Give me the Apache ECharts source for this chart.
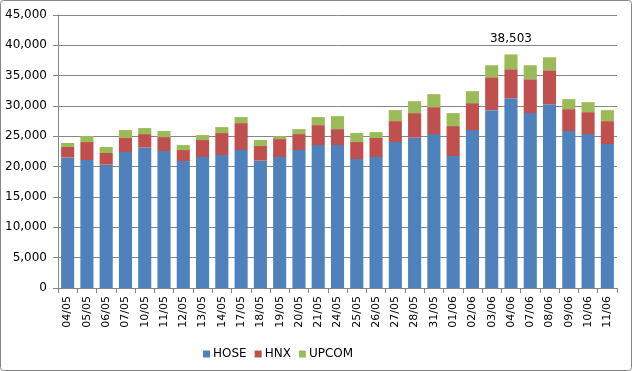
<!DOCTYPE html>
<html><head><meta charset="utf-8">
<script src="https://cdn.jsdelivr.net/npm/echarts@6/dist/echarts.min.js"></script>
<style>html,body{margin:0;padding:0;background:#fff}#c{width:632px;height:371px}</style>
</head><body><div id="c"></div>
<script>
const categories = ['04/05','05/05','06/05','07/05','10/05','11/05','12/05','13/05','14/05','17/05','18/05','19/05','20/05','21/05','24/05','25/05','26/05','27/05','28/05','31/05','01/06','02/06','03/06','04/06','07/06','08/06','09/06','10/06','11/06'];
const hose = [21490,21100,20330,22410,23130,22580,20930,21590,21920,22740,20990,21590,22740,23560,23560,21260,21590,24060,24770,25370,21760,26030,29320,31290,28830,30300,25870,25370,23730];
const hnx = [1750,2960,1920,2310,2240,2300,1810,2800,3620,4440,2410,2960,2630,3290,2630,2800,3130,3450,4060,4440,4930,4440,5420,4770,5580,5590,3610,3620,3780];
const upcom = [660,990,990,1310,990,990,820,820,980,990,990,490,820,1320,2140,1480,980,1810,1970,2140,2140,1970,1980,2443,2310,2140,1650,1640,1810];
const yTicks = [0,5000,10000,15000,20000,25000,30000,35000,40000,45000];
const labeledIndex = 23;

const fmt = v => String(v).replace(/\B(?=(\d{3})+(?!\d))/g, ',');
const font = 'DejaVu Sans';
const grey = '#868686';
const chart = echarts.init(document.getElementById('c'));
chart.setOption({
  animation: false,
  textStyle: {fontFamily: font},
  graphic: [{type:'rect', shape:{x:0.5,y:0.5,width:631,height:370,r:3}, style:{fill:'none',stroke:grey,lineWidth:1}, silent:true}],
  grid: {left:58, right:15, top:15, bottom:83},
  legend: {
    left: 198, top: 343, itemWidth: 7, itemHeight: 7, itemGap: 8,
    icon: 'rect',
    textStyle: {fontFamily: font, fontSize: 12, color: '#000', padding:[0,0,0,-2]},
    data: ['HOSE','HNX','UPCOM']
  },
  xAxis: {
    type: 'category', data: categories,
    axisLine: {lineStyle:{color:grey}},
    axisTick: {show:true, length:5, lineStyle:{color:grey}},
    axisLabel: {rotate:90, interval:0, margin:8, fontSize:11, color:'#000', fontFamily: font}
  },
  yAxis: {
    type: 'value', min: yTicks[0], max: yTicks[yTicks.length-1], interval: yTicks[1]-yTicks[0],
    axisLine: {show:true, lineStyle:{color:grey}},
    axisTick: {show:true, length:5, lineStyle:{color:grey}},
    splitLine: {lineStyle:{color:grey}},
    axisLabel: {formatter: v => fmt(v), margin:11, fontSize:12, color:'#000', fontFamily: font}
  },
  series: [
    {name:'HOSE', type:'bar', stack:'t', data:hose, barCategoryGap:'32%', itemStyle:{color:'#4F81BD'}},
    {name:'HNX', type:'bar', stack:'t', data:hnx, itemStyle:{color:'#C0504D'}},
    {name:'UPCOM', type:'bar', stack:'t', itemStyle:{color:'#9BBB59'},
     data: upcom.map((v,i) => i === labeledIndex ? {value:v, label:{show:true}} : v),
     label: {show:false, position:'top', distance:10, fontSize:12, color:'#000', fontFamily: font,
       formatter: p => fmt(hose[p.dataIndex] + hnx[p.dataIndex] + upcom[p.dataIndex])}}
  ]
});
</script></body></html>
